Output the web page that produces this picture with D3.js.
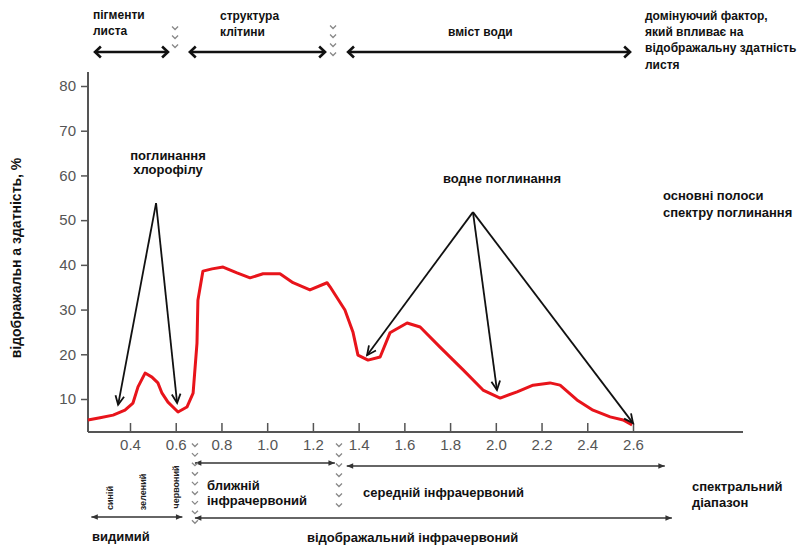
<!DOCTYPE html>
<html>
<head>
<meta charset="utf-8">
<script src="https://cdn.jsdelivr.net/npm/d3@7"></script>
<style>
  body { margin: 0; background: #fff; }
  svg { display: block; }
  text { font-family: "Liberation Sans", Arial, sans-serif; }
</style>
</head>
<body>
<div class="grafico"></div>
<script>
const width = 810, height = 546;

// spectral reflectance curve of a green leaf
const wavelength = [0.216, 0.269, 0.326, 0.378, 0.413, 0.435, 0.466, 0.496, 0.522, 0.540, 0.566, 0.610,
  0.649, 0.676, 0.693, 0.697, 0.719, 0.759, 0.807, 0.868, 0.925, 0.982, 1.056, 1.113, 1.187, 1.262,
  1.275, 1.340, 1.375, 1.397, 1.441, 1.494, 1.537, 1.612, 1.669, 1.756, 1.857, 1.944, 2.019, 2.093,
  2.163, 2.237, 2.281, 2.355, 2.425, 2.500, 2.557, 2.596];
const reflectance = [5.3, 5.8, 6.4, 7.5, 9.1, 12.7, 15.8, 14.9, 13.6, 11.3, 9.3, 7.1,
  8.2, 11.3, 22.5, 32.1, 38.6, 39.1, 39.5, 38.2, 37.1, 38.0, 38.0, 36.0, 34.4, 36.0,
  35.1, 29.9, 25.0, 19.8, 18.7, 19.4, 24.8, 27.0, 26.1, 21.6, 16.5, 12.0, 10.2, 11.6,
  13.1, 13.6, 13.1, 9.8, 7.5, 6.0, 5.3, 4.2];

const xTicks = [0.4, 0.6, 0.8, 1.0, 1.2, 1.4, 1.6, 1.8, 2.0, 2.2, 2.4, 2.6];
const yTicks = [10, 20, 30, 40, 50, 60, 70, 80];

// absorption arrows: apex and targets in (wavelength, reflectance)
const chlorophyllApex = [0.514, 53.8];
const chlorophyllTargets = [[0.348, 8.7], [0.606, 9.1]];
const waterApex = [1.90, 51.8];
const waterTargets = [[1.437, 19.8], [2.005, 12.0], [2.60, 4.6]];

// wavelength ranges of the annotation arrows
const topRanges = [[0.247, 0.566], [0.662, 1.253], [1.354, 2.587]];
const bottomRanges = [[0.684, 1.296], [1.348, 2.739], [0.231, 0.629], [0.684, 2.770]];
const topBreaks = [0.597, 1.288];
const bottomBreaks = [0.684, 1.314];

const svg = d3.select(".grafico")
    .append("svg")
    .attr("width", width)
    .attr("height", height);

const x = d3.scaleLinear().domain([0.4, 2.6]).range([130, 633]);
const y = d3.scaleLinear().domain([10, 80]).range([399, 86]);
const baseY = 432, leftX = 88;

// arrow helper: open V heads (thick) or filled triangles (thin)
function arrow(g, x1, y1, x2, y2, o) {
    g.append("line")
        .attr("x1", x1).attr("y1", y1).attr("x2", x2).attr("y2", y2)
        .attr("stroke", o.color).attr("stroke-width", o.w);
    const heads = o.both ? [[x2, y2, x1, y1], [x1, y1, x2, y2]] : [[x2, y2, x1, y1]];
    heads.forEach(([hx, hy, fx, fy]) => {
        const a = Math.atan2(hy - fy, hx - fx);
        const p1 = [hx - o.len * Math.cos(a - o.ang), hy - o.len * Math.sin(a - o.ang)];
        const p2 = [hx - o.len * Math.cos(a + o.ang), hy - o.len * Math.sin(a + o.ang)];
        if (o.fill) {
            g.append("path").attr("d", `M${p1}L${hx},${hy}L${p2}Z`).attr("fill", o.color);
        } else {
            g.append("path").attr("d", `M${p1}L${hx},${hy}L${p2}`)
                .attr("fill", "none").attr("stroke", o.color)
                .attr("stroke-width", o.w).attr("stroke-linejoin", "miter");
        }
    });
}

function label(lines, px, py, opts = {}) {
    const t = svg.append("text")
        .attr("x", px).attr("y", py)
        .attr("font-size", opts.size || 12)
        .attr("font-weight", "bold")
        .attr("fill", opts.color || "#111")
        .attr("text-anchor", opts.anchor || "start");
    lines.forEach((l, i) => {
        t.append("tspan").attr("x", px).attr("dy", i === 0 ? 0 : (opts.lh || 16)).text(l);
    });
    return t;
}

function breaks(px, ys) {
    ys.forEach(yy => {
        svg.append("path")
            .attr("d", `M${px - 3},${yy - 1.5}L${px},${yy + 1.5}L${px + 3},${yy - 1.5}`)
            .attr("fill", "none").attr("stroke", "#888").attr("stroke-width", 1.3);
    });
}

// axes
const xAxis = svg.append("g")
    .attr("transform", `translate(0,${baseY})`)
    .call(d3.axisBottom(x).tickValues(xTicks).tickFormat(d3.format(".1f"))
        .tickSizeInner(-9).tickSizeOuter(0).tickPadding(7));
xAxis.select(".domain").remove();
xAxis.selectAll(".tick line").attr("stroke", "#555").attr("stroke-width", 1.5);
xAxis.selectAll(".tick text").attr("font-size", 15).attr("fill", "#555")
    .style("font-family", "Liberation Sans, Arial, sans-serif");

const yAxis = svg.append("g")
    .attr("transform", `translate(${leftX},0)`)
    .call(d3.axisLeft(y).tickValues(yTicks).tickSizeInner(7).tickSizeOuter(0).tickPadding(5));
yAxis.select(".domain").remove();
yAxis.selectAll(".tick line").attr("stroke", "#555").attr("stroke-width", 1.5);
yAxis.selectAll(".tick text").attr("font-size", 15).attr("fill", "#555")
    .style("font-family", "Liberation Sans, Arial, sans-serif");

svg.append("line").attr("x1", leftX).attr("x2", 743).attr("y1", baseY).attr("y2", baseY)
    .attr("stroke", "#555").attr("stroke-width", 2);
svg.append("line").attr("x1", leftX).attr("x2", leftX).attr("y1", 72).attr("y2", baseY)
    .attr("stroke", "#555").attr("stroke-width", 2);

svg.append("text")
    .attr("transform", "translate(21,258) rotate(-90)")
    .attr("text-anchor", "middle")
    .attr("font-size", 14).attr("font-weight", "bold").attr("fill", "#111")
    .text("відображальн а здатність, %");

// curve
const line = d3.line().x(d => x(d[0])).y(d => y(d[1]));
svg.append("path")
    .datum(d3.zip(wavelength, reflectance))
    .attr("d", line)
    .attr("fill", "none")
    .attr("stroke", "#e8141b")
    .attr("stroke-width", 3)
    .attr("stroke-linejoin", "round");

// absorption arrows
const ann = svg.append("g");
const headOpts = { color: "#111", w: 1.8, len: 10, ang: 0.45, both: false };
chlorophyllTargets.forEach(t =>
    arrow(ann, x(chlorophyllApex[0]), y(chlorophyllApex[1]), x(t[0]), y(t[1]), headOpts));
waterTargets.forEach(t =>
    arrow(ann, x(waterApex[0]), y(waterApex[1]), x(t[0]), y(t[1]), headOpts));

label(["поглинання", "хлорофілу"], 168, 160, { size: 13, anchor: "middle", lh: 13.5 });
label(["водне поглинання"], 443, 183, { size: 13 });
label(["основні полоси", "спектру поглинання"], 663, 200, { size: 13, lh: 17 });

// top ranges
const topY = 52;
topRanges.forEach(r =>
    arrow(svg, x(r[0]), topY, x(r[1]), topY, { color: "#111", w: 2.6, len: 8, ang: 0.75, both: true }));
breaks(x(topBreaks[0]), [28, 37, 46]);
breaks(x(topBreaks[1]), [27, 36, 45, 54]);

label(["пігменти", "листа"], 93, 19);
label(["структура", "клітини"], 220, 20);
label(["вміст води"], 448, 36);
label(["домінуючий фактор,", "який впливає на", "відображальну здатність", "листя"], 645, 20, { lh: 16.2 });

// bottom ranges
const rangeY = [463, 466, 517, 518];
bottomRanges.forEach((r, i) =>
    arrow(svg, x(r[0]), rangeY[i], x(r[1]), rangeY[i], { color: "#333", w: 1.3, len: 7, ang: 0.4, fill: true, both: true }));
breaks(x(bottomBreaks[0]), d3.range(445, 522, 9.6));
breaks(x(bottomBreaks[1]), d3.range(445, 508, 10));

[["синій", 110, 498], ["зелений", 143, 492], ["червоний", 176, 487]].forEach(([t, px, py]) => {
    svg.append("text")
        .attr("transform", `translate(${px + 3},${py}) rotate(-90)`)
        .attr("text-anchor", "middle")
        .attr("font-size", 9).attr("font-weight", "bold").attr("fill", "#222")
        .text(t);
});

label(["ближній", "інфрачервоний"], 207, 490, { size: 13, lh: 15 });
label(["середній інфрачервоний"], 363, 497, { size: 13 });
label(["спектральний", "діапазон"], 692, 491, { size: 13, lh: 16 });
label(["видимий"], 92, 541, { size: 13 });
label(["відображальний інфрачервоний"], 307, 542, { size: 13 });
</script>
</body>
</html>
